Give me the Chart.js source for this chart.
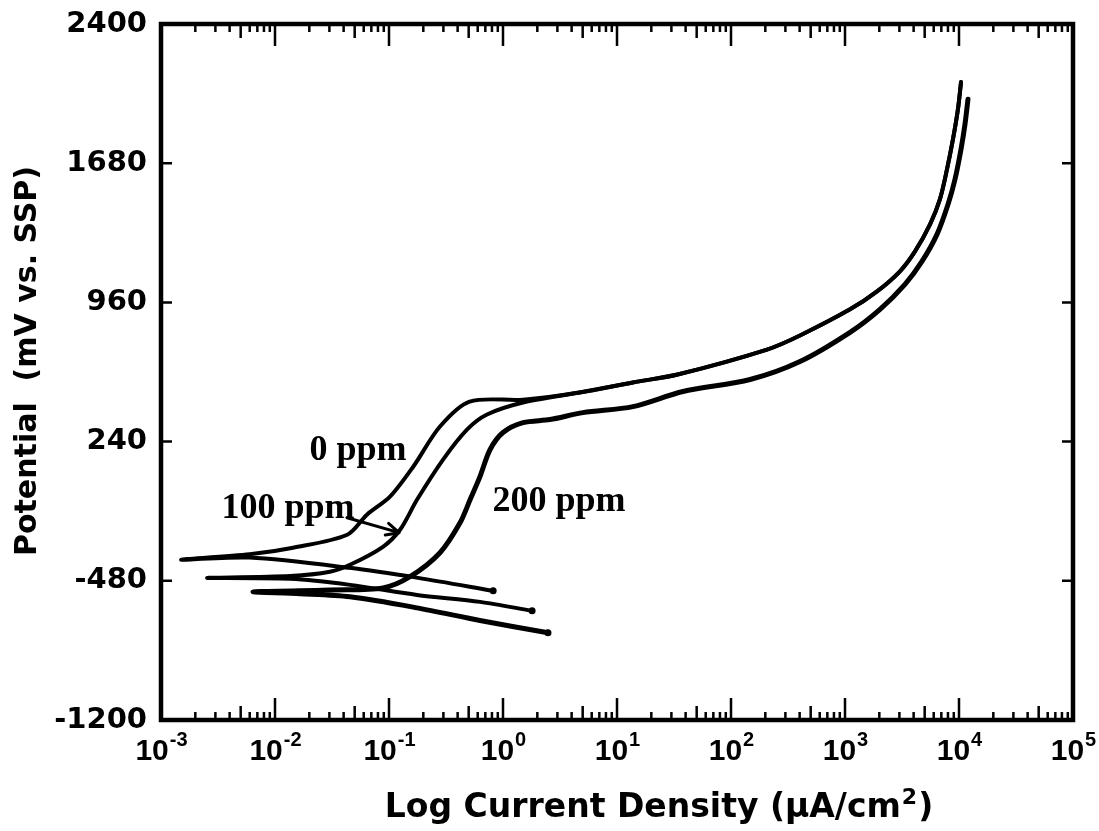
<!DOCTYPE html>
<html>
<head>
<meta charset="utf-8">
<script src="https://cdn.jsdelivr.net/npm/chart.js@4/dist/chart.umd.min.js"></script>
<style>html,body{margin:0;padding:0;background:#fff}canvas{display:block}</style>
</head>
<body>
<canvas id="c" width="1099" height="831"></canvas>
<script>
// ---- data ----
const xTickValues = [1e-3, 1e-2, 1e-1, 1, 10, 100, 1e3, 1e4, 1e5];
const xTickExponents = ['-3', '-2', '-1', '0', '1', '2', '3', '4', '5'];
const yTickValues = [-1200, -480, 240, 960, 1680, 2400];
const yTickLabels = ['-1200', '-480', '240', '960', '1680', '2400'];

const current0   = [0.82, 0.18, 0.045, 0.006, 0.0015, 0.006, 0.0144, 0.043, 0.064, 0.102, 0.163, 0.28, 0.51, 1.5, 4.7, 13.8, 34, 207, 403, 1107, 1910, 3034, 4111, 5572, 6808, 7852, 8854, 9795, 10420];
const potential0 = [-532, -465, -413, -360, -371, -343, -309, -242, -138, -45, 110, 318, 447, 457, 494, 546, 587, 716, 789, 924, 1017, 1121, 1224, 1364, 1494, 1649, 1804, 1960, 2100];

const current100   = [1.80, 0.63, 0.176, 0.0455, 0.0136, 0.00254, 0.0136, 0.0303, 0.0455, 0.0885, 0.125, 0.176, 0.298, 0.483, 0.724, 1.5, 4.7, 13.8, 34, 207, 403, 1107, 1910, 3034, 4111, 5572, 6808, 7852, 8854, 9795, 10420];
const potential100 = [-635, -589, -553, -501, -470, -465, -455, -433, -397, -304, -216, -61, 147, 302, 380, 442, 494, 546, 587, 716, 789, 924, 1017, 1121, 1224, 1364, 1494, 1649, 1804, 1960, 2100];

const current200   = [2.48, 0.628, 0.176, 0.0455, 0.0166, 0.00641, 0.0166, 0.0303, 0.0885, 0.153, 0.28, 0.42, 0.514, 0.628, 0.769, 1.0, 1.5, 2.58, 5.03, 13.8, 37.9, 147, 403, 1107, 2028, 3357, 4732, 6412, 8017, 9226, 10420, 11290, 11990];
const potential200 = [-749, -685, -620, -563, -547, -537, -532, -527, -517, -459, -335, -180, -61, 59, 198, 287, 338, 354, 390, 421, 499, 561, 654, 805, 924, 1053, 1172, 1312, 1468, 1597, 1753, 1882, 2011];

const seriesLabels = ['0 ppm', '100 ppm', '200 ppm'];
// label anchor points (data coordinates)
const labelCurrent   = [0.0535, 0.0130, 3.10];
const labelPotential = [193, -107, -71];
// arrow from "100 ppm" label to its curve (data coordinates)
const arrowCurrent   = [0.0429, 0.1225];
const arrowPotential = [-154, -231];

const xTitle = 'Log Current Density (\u03bcA/cm';
const xTitleSup = '2';
const yTitle = 'Potential  (mV vs. SSP)';

function pts(xs, ys) { return xs.map((x, i) => ({ x: x, y: ys[i] })); }

const decor = {
  id: 'decor',
  afterDraw(chart) {
    const ctx = chart.ctx;
    const a = chart.chartArea;
    const xs = chart.scales.x, ys = chart.scales.y;
    ctx.save();
    ctx.strokeStyle = '#000';
    ctx.fillStyle = '#000';
    // frame
    ctx.lineWidth = 4.5;
    ctx.strokeRect(a.left, a.top, a.right - a.left, a.bottom - a.top);
    // x ticks (inward, top and bottom)
    ctx.lineWidth = 2.5;
    for (let k = 0; k < xTickValues.length; k++) {
      const dec = xTickValues[k];
      const px = xs.getPixelForValue(dec);
      ctx.beginPath();
      ctx.moveTo(px, a.bottom); ctx.lineTo(px, a.bottom - 22);
      ctx.moveTo(px, a.top); ctx.lineTo(px, a.top + 22);
      ctx.stroke();
      if (k < xTickValues.length - 1) {
        for (let m = 2; m <= 9; m++) {
          const p = xs.getPixelForValue(dec * m);
          const len = m === 5 ? 14 : 8;
          ctx.beginPath();
          ctx.moveTo(p, a.bottom); ctx.lineTo(p, a.bottom - len);
          ctx.moveTo(p, a.top); ctx.lineTo(p, a.top + len);
          ctx.stroke();
        }
      }
    }
    // y ticks (inward, left and right)
    yTickValues.forEach(v => {
      const py = ys.getPixelForValue(v);
      ctx.beginPath();
      ctx.moveTo(a.left, py); ctx.lineTo(a.left + 11, py);
      ctx.moveTo(a.right, py); ctx.lineTo(a.right - 11, py);
      ctx.stroke();
    });
    // x tick labels 10^n
    const baseFont = 'bold 30px "Liberation Sans", Arial, sans-serif';
    const supFont = 'bold 20px "Liberation Sans", Arial, sans-serif';
    ctx.textBaseline = 'alphabetic';
    ctx.textAlign = 'left';
    xTickValues.forEach((v, i) => {
      const px = xs.getPixelForValue(v);
      ctx.font = baseFont;
      const w1 = ctx.measureText('10').width;
      ctx.font = supFont;
      const w2 = ctx.measureText(xTickExponents[i]).width;
      const x0 = px - (w1 + w2) / 2;
      ctx.font = baseFont;
      ctx.fillText('10', x0, a.bottom + 40);
      ctx.font = supFont;
      ctx.fillText(xTickExponents[i], x0 + w1 + 1, a.bottom + 26);
    });
    // x title with superscript
    const tFont = 'bold 33px "DejaVu Sans", sans-serif';
    const tSup = 'bold 22px "DejaVu Sans", sans-serif';
    ctx.font = tFont;
    const tw1 = ctx.measureText(xTitle).width;
    const tw3 = ctx.measureText(')').width;
    ctx.font = tSup;
    const tw2 = ctx.measureText(xTitleSup).width;
    const tx = 658 - (tw1 + tw2 + tw3) / 2;
    ctx.font = tFont;
    ctx.fillText(xTitle, tx, 817);
    ctx.font = tSup;
    ctx.fillText(xTitleSup, tx + tw1 + 1, 804);
    ctx.font = tFont;
    ctx.fillText(')', tx + tw1 + tw2 + 2, 817);
    // y title (rotated)
    ctx.save();
    ctx.translate(28, 361);
    ctx.rotate(-Math.PI / 2);
    ctx.textAlign = 'center';
    ctx.textBaseline = 'middle';
    ctx.font = 'bold 30px "DejaVu Sans", sans-serif';
    ctx.fillText(yTitle, 0, 0);
    ctx.restore();
    // series labels
    ctx.font = 'bold 36px "Liberation Serif", "Times New Roman", serif';
    ctx.textAlign = 'center';
    ctx.textBaseline = 'middle';
    seriesLabels.forEach((t, i) => {
      ctx.fillText(t, xs.getPixelForValue(labelCurrent[i]), ys.getPixelForValue(labelPotential[i]));
    });
    // arrow
    const ax0 = xs.getPixelForValue(arrowCurrent[0]), ay0 = ys.getPixelForValue(arrowPotential[0]);
    const ax1 = xs.getPixelForValue(arrowCurrent[1]), ay1 = ys.getPixelForValue(arrowPotential[1]);
    ctx.lineWidth = 3;
    ctx.lineCap = 'round';
    ctx.beginPath();
    ctx.moveTo(ax0, ay0); ctx.lineTo(ax1, ay1);
    const ang = Math.atan2(ay1 - ay0, ax1 - ax0);
    ctx.moveTo(ax1, ay1); ctx.lineTo(ax1 - 14 * Math.cos(ang - 0.45), ay1 - 14 * Math.sin(ang - 0.45));
    ctx.moveTo(ax1, ay1); ctx.lineTo(ax1 - 14 * Math.cos(ang + 0.45), ay1 - 14 * Math.sin(ang + 0.45));
    ctx.stroke();
    ctx.restore();
  }
};

function ds(xs, ys, w) {
  return {
    data: pts(xs, ys), showLine: true, borderColor: '#000', backgroundColor: '#000',
    borderWidth: w, tension: 0.3, borderCapStyle: 'round', borderJoinStyle: 'round',
    pointRadius: c => (c.dataIndex === 0 ? 3.5 : 0), pointBorderWidth: 0, pointBackgroundColor: '#000'
  };
}

new Chart(document.getElementById('c').getContext('2d'), {
  type: 'scatter',
  data: { datasets: [ds(current0, potential0, 4), ds(current100, potential100, 4), ds(current200, potential200, 5)] },
  options: {
    responsive: false, animation: false, devicePixelRatio: 1,
    layout: { padding: { top: 24, right: 26, left: 0, bottom: 0 } },
    plugins: { legend: { display: false }, tooltip: { enabled: false } },
    scales: {
      x: {
        type: 'logarithmic', min: 1e-3, max: 1e5,
        afterBuildTicks: s => { s.ticks = xTickValues.map(v => ({ value: v })); },
        ticks: { display: false }, grid: { display: false }, border: { display: false },
        afterFit: s => { s.height = 111; s.paddingLeft = 0; s.paddingRight = 0; }
      },
      y: {
        min: -1200, max: 2400,
        afterBuildTicks: s => { s.ticks = yTickValues.map(v => ({ value: v })); },
        ticks: { color: '#000', padding: 14, font: { family: 'DejaVu Sans', size: 29, weight: 'bold' },
                 callback: (v, i) => yTickLabels[i] },
        grid: { display: false, drawTicks: false }, border: { display: false },
        afterFit: s => { s.width = 161; s.paddingTop = 0; s.paddingBottom = 0; }
      }
    }
  },
  plugins: [decor]
});
</script>
</body>
</html>
